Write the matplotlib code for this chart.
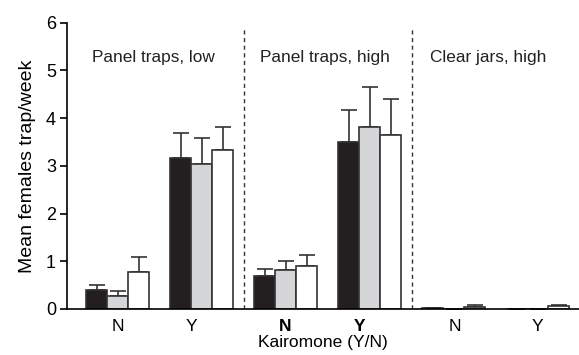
import matplotlib

matplotlib.use("Agg")
import matplotlib.pyplot as plt
import numpy as np

# Trap type panels and kairomone treatment
panels = ["Panel traps, low", "Panel traps, high", "Clear jars, high"]
treatments = ["N", "Y"]

# Mean females per trap per week, three series (black, grey, white) per group
# group order: P-low N, P-low Y, P-high N, P-high Y, jars N, jars Y
means_black = [0.40, 3.16, 0.69, 3.50, 0.02, 0.01]
means_grey = [0.28, 3.04, 0.81, 3.81, 0.00, 0.00]
means_white = [0.78, 3.33, 0.91, 3.64, 0.05, 0.06]

err_black = [0.10, 0.53, 0.15, 0.67, 0.00, 0.00]
err_grey = [0.10, 0.55, 0.19, 0.85, 0.00, 0.00]
err_white = [0.32, 0.48, 0.22, 0.76, 0.03, 0.03]

tick_labels = ["N", "Y", "N", "Y", "N", "Y"]
bold_ticks = [False, False, True, True, False, False]

plt.rcParams.update(
    {
        "font.family": ["Liberation Sans", "DejaVu Sans"],
        "font.size": 12.4,
        "axes.linewidth": 1.2,
    }
)

fig = plt.figure(figsize=(5.79, 3.55), dpi=100)
ax = fig.add_axes([0.1157, 0.1296, 0.8843, 0.8065])

bar_w = 1.0
centers = 2.41 + 4 * np.arange(len(tick_labels))
series = [
    (means_black, err_black, "#231f20"),
    (means_grey, err_grey, "#d5d6d7"),
    (means_white, err_white, "#ffffff"),
]

for i, (vals, errs, color) in enumerate(series):
    xs = centers + (i - 1) * bar_w
    ax.bar(
        xs,
        vals,
        width=bar_w,
        color=color,
        edgecolor="#333333",
        linewidth=1.2,
        zorder=2,
    )
    ax.errorbar(
        xs,
        vals,
        yerr=[np.zeros(len(errs)), errs],
        fmt="none",
        ecolor="#333333",
        elinewidth=1.2,
        capsize=5.5,
        capthick=1.2,
        zorder=1,
    )

# Dashed separators between trap types
for sep in (centers[1] + 2, centers[3] + 2):
    ax.plot([sep, sep], [0, 5.88], color="#333333", linestyle=(0, (3, 2.5)),
            linewidth=1.0)

# Panel titles
for j, name in enumerate(panels):
    xc = [4.1, 12.29, 20.05][j]
    ax.text(xc, 5.27, name, ha="center", va="center", fontsize=12.4,
            color="#222222")

ax.set_xlim(0, 24.38)
ax.set_ylim(0, 6)
ax.set_yticks(range(0, 7))
ax.tick_params(axis="y", length=5, width=1.2, labelsize=13, pad=3)

tick_pos = [2.40, 5.93, 10.38, 13.95, 18.45, 22.40]
ax.set_xticks(tick_pos)
ax.set_xticklabels(tick_labels)
ax.tick_params(axis="x", length=0, labelsize=12.5, pad=7)
for lbl, b in zip(ax.get_xticklabels(), bold_ticks):
    if b:
        lbl.set_fontweight("bold")

ax.spines["top"].set_visible(False)
ax.spines["right"].set_visible(False)

ax.set_ylabel("Mean females trap/week", fontsize=14, labelpad=7)
ax.set_xlabel("Kairomone (Y/N)", fontsize=12.5, labelpad=1)

fig.savefig("out.png", dpi=100)
plt.close(fig)
